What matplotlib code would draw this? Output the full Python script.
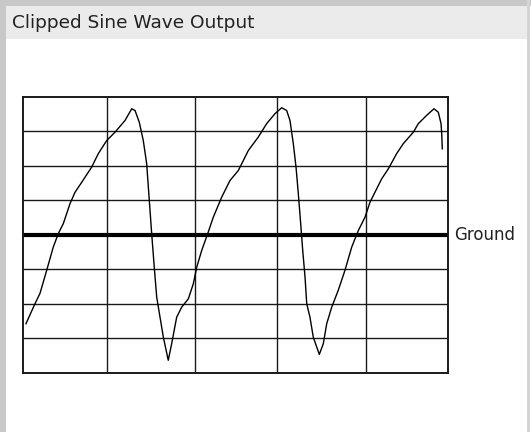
import matplotlib.pyplot as plt
from matplotlib.patches import Rectangle
from matplotlib.transforms import offset_copy

# Trace of the clipped sine wave, in screen divisions
# (x: 0..5 divisions across, y: -4..4 divisions, 0 = ground)
time_div = [0.035, 0.141, 0.200, 0.279, 0.356, 0.415, 0.474, 0.553, 0.612, 0.691,
            0.808, 0.886, 0.985, 1.082, 1.200, 1.279, 1.318, 1.368, 1.415, 1.455,
            1.486, 1.514, 1.541, 1.573, 1.651, 1.709, 1.749, 1.808, 1.867, 1.945,
            2.004, 2.044, 2.102, 2.180, 2.239, 2.338, 2.435, 2.533, 2.651, 2.768,
            2.867, 2.965, 3.044, 3.102, 3.141, 3.180, 3.212, 3.239, 3.267, 3.291,
            3.318, 3.338, 3.376, 3.415, 3.486, 3.533, 3.573, 3.632, 3.709, 3.788,
            3.867, 3.945, 4.024, 4.082, 4.161, 4.220, 4.298, 4.396, 4.474, 4.592,
            4.651, 4.749, 4.835, 4.886, 4.918, 4.926, 4.933]
volts_div = [-2.58, -2.00, -1.70, -1.03, -0.36, 0.03, 0.32, 0.90, 1.23, 1.52,
             1.96, 2.35, 2.73, 2.97, 3.31, 3.65, 3.60, 3.26, 2.73, 2.06,
             0.99, 0.03, -0.84, -1.81, -2.97, -3.64, -3.16, -2.39, -2.10, -1.86,
             -1.42, -0.94, -0.46, 0.08, 0.51, 1.09, 1.57, 1.86, 2.44, 2.83,
             3.22, 3.51, 3.68, 3.60, 3.31, 2.64, 1.96, 1.19, 0.32, -0.46,
             -1.23, -2.00, -2.39, -2.97, -3.47, -3.16, -2.58, -2.10, -1.61, -1.03,
             -0.36, 0.12, 0.51, 0.94, 1.33, 1.62, 1.91, 2.35, 2.64, 2.97,
             3.22, 3.46, 3.65, 3.55, 3.22, 2.93, 2.49]

# graticule lines as drawn on the screen
x_grid = [0, 0.988, 2.024, 2.988, 4.035, 5.0]
y_grid = [-4, -3, -2, -1, 0, 1, 2, 3, 4]

title = 'Clipped Sine Wave Output'
ground_label = 'Ground'

W, H = 531, 432
fig = plt.figure(figsize=(W / 100, H / 100), dpi=100)
fig.patch.set_facecolor('white')

# window frame and title bar (in pixel units of the figure)
bg = fig.add_axes([0, 0, 1, 1])
bg.set_xlim(0, W)
bg.set_ylim(H, 0)
bg.axis('off')
bg.add_patch(Rectangle((0, 0), 6, H, color='#c8c8c8', lw=0))
bg.add_patch(Rectangle((0, 0), W, 6, color='#c8c8c8', lw=0))
bg.add_patch(Rectangle((527, 0), 3, H, color='#d4d4d4', lw=0))
bg.add_patch(Rectangle((6, 6), 521, 33, color='#ebebeb', lw=0))
bg.text(12.5, 22.5, title, fontsize=13.3, color='#222222', va='center', ha='left')

# scope screen
ax = fig.add_axes([23 / W, (H - 372.7) / H, 425 / W, 276 / H])
ax.set_xlim(0, 5)
ax.set_ylim(-4, 4)
for x in x_grid[1:-1]:
    ax.axvline(x, color='#1a1a1a', lw=1.0)
for y in y_grid[1:-1]:
    if y != 0:
        ax.axhline(y, color='#1a1a1a', lw=1.0)
ax.axhline(0, color='black', lw=3.0)
for s in ax.spines.values():
    s.set_linewidth(1.4)
    s.set_color('#1a1a1a')
ax.set_xticks([])
ax.set_yticks([])

ax.plot(time_div, volts_div, color='black', lw=1.0)

label_tr = offset_copy(ax.get_yaxis_transform(), fig=fig, x=4.5, y=0, units='points')
ax.text(1.0, 0, ground_label, transform=label_tr,
        fontsize=12, va='center', ha='left', color='#222222')

fig.savefig('out.png', dpi=100)
